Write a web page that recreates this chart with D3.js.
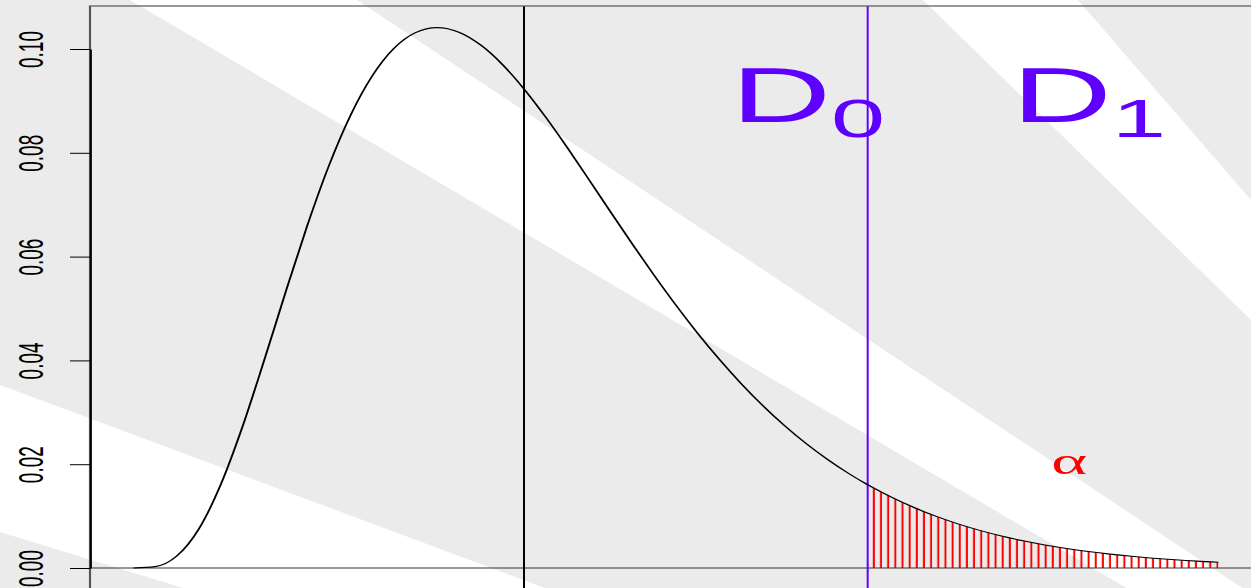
<!DOCTYPE html>
<html>
<head>
<meta charset="utf-8">
<script src="https://cdn.jsdelivr.net/npm/d3@7"></script>
<style>
  html, body { margin: 0; padding: 0; background: #ebebeb; overflow: hidden; }
  svg { display: block; }
</style>
</head>
<body>
<svg id="chart" width="1251" height="588"></svg>
<script>
// Chi-square density with 9 degrees of freedom, sampled every 0.5 on [0, 25]
const xValues = [0, 0.5, 1, 1.5, 2, 2.5, 3, 3.5, 4, 4.5, 5, 5.5, 6, 6.5, 7, 7.5, 8, 8.5, 9, 9.5,
  10, 10.5, 11, 11.5, 12, 12.5, 13, 13.5, 14, 14.5, 15, 15.5, 16, 16.5, 17, 17.5, 18, 18.5, 19, 19.5,
  20, 20.5, 21, 21.5, 22, 22.5, 23, 23.5, 24, 24.5, 25];
const densityValues = [0, 0.00026, 0.00230, 0.00742, 0.01581, 0.02689, 0.03965, 0.05296, 0.06582, 0.07741,
  0.08717, 0.09477, 0.10009, 0.10315, 0.10412, 0.10324, 0.10078, 0.09704, 0.09231, 0.08687,
  0.08096, 0.07479, 0.06855, 0.06237, 0.05638, 0.05065, 0.04525, 0.04022, 0.03557, 0.03132,
  0.02747, 0.02399, 0.02088, 0.01811, 0.01566, 0.01350, 0.01160, 0.00994, 0.00850, 0.00725,
  0.00617, 0.00524, 0.00444, 0.00375, 0.00317, 0.00267, 0.00225, 0.00189, 0.00158, 0.00132, 0.00111];

// Mean of the distribution and the 5% critical value with its density
const meanValue = 9;
const criticalValue = 16.919;
const criticalDensity = 0.01604;
const upperLimit = 25;

// Y axis ticks
const yTickValues = [0, 0.02, 0.04, 0.06, 0.08, 0.10];
const yTickLabels = ["0.00", "0.02", "0.04", "0.06", "0.08", "0.10"];

// Region labels
const regionLabels = ["D", "D"];
const regionSubscripts = ["0", "1"];
const tailLabel = "\u03B1";

// ---------------------------------------------------------------------------
const W = 1251, H = 588;
const SX = 1.8;               // horizontal stretch of the whole figure
const svg = d3.select("#chart");

// Backdrop: light grey with white diagonal bands
const backdropBands = [
  [[130, 0], [357, 0], [1242.5, 588], [1126.6, 588]],
  [[923, 0], [1078, 0], [1251, 200], [1251, 320]],
  [[0, 385], [545, 588], [183, 588], [0, 532]]
];
svg.append("rect").attr("width", W).attr("height", H).attr("fill", "#ebebeb");
svg.append("g").selectAll("polygon").data(backdropBands).join("polygon")
  .attr("points", d => d.map(p => p.join(",")).join(" "))
  .attr("fill", "#ffffff");

// Figure drawn in an unstretched frame, then widened
const g = svg.append("g").attr("transform", `scale(${SX},1)`);

const plotLeft = 90 / SX, plotRight = 1261.8 / SX;
const plotTop = 6, plotBottom = 589.6;

const x = d3.scaleLinear().domain([-1, 26]).range([plotLeft, plotRight]);
const y = d3.scaleLinear().domain([0, 0.10]).range([568, 49]);

const defs = svg.append("defs");
defs.append("clipPath").attr("id", "plotClip")
  .append("rect")
  .attr("x", plotLeft).attr("y", plotTop)
  .attr("width", plotRight - plotLeft).attr("height", plotBottom - plotTop);

const curvePoints = xValues.map((v, i) => ({ x: v, y: densityValues[i] }))
  .concat([{ x: criticalValue, y: criticalDensity }])
  .sort((a, b) => a.x - b.x);

const plot = g.append("g").attr("clip-path", "url(#plotClip)");

// Rejection region hatched with vertical red lines
const hatchStep = (x(upperLimit) - x(criticalValue)) / 49;
const pattern = defs.append("pattern")
  .attr("id", "hatch")
  .attr("patternUnits", "userSpaceOnUse")
  .attr("x", x(criticalValue)).attr("y", 0)
  .attr("width", hatchStep).attr("height", H);
pattern.append("rect")
  .attr("x", hatchStep - 1.1).attr("y", 0)
  .attr("width", 1.1).attr("height", H)
  .attr("fill", "#ff0000");

const tailPoints = curvePoints.filter(d => d.x >= criticalValue && d.x <= upperLimit);
plot.append("path")
  .datum(tailPoints)
  .attr("fill", "url(#hatch)")
  .attr("d", d3.area()
    .x(d => x(d.x))
    .y0(y(0))
    .y1(d => y(d.y))
    .curve(d3.curveMonotoneX));

// Zero line
plot.append("line")
  .attr("x1", plotLeft).attr("x2", plotRight)
  .attr("y1", y(0)).attr("y2", y(0))
  .attr("stroke", "#333").attr("stroke-width", 1.1);

// Mean line
plot.append("line")
  .attr("x1", x(meanValue)).attr("x2", x(meanValue))
  .attr("y1", plotTop).attr("y2", plotBottom)
  .attr("stroke", "#000").attr("stroke-width", 1.1);

// Critical value line
plot.append("line")
  .attr("x1", x(criticalValue)).attr("x2", x(criticalValue))
  .attr("y1", plotTop).attr("y2", plotBottom)
  .attr("stroke", "#5f00ff").attr("stroke-width", 1.1);

// Density curve
plot.append("path")
  .datum(curvePoints)
  .attr("fill", "none")
  .attr("stroke", "#000")
  .attr("stroke-width", 1.1)
  .attr("d", d3.line()
    .x(d => x(d.x))
    .y(d => y(d.y))
    .curve(d3.curveMonotoneX));

// Plot box
g.append("rect")
  .attr("x", plotLeft).attr("y", plotTop)
  .attr("width", plotRight - plotLeft).attr("height", plotBottom - plotTop)
  .attr("fill", "none").attr("stroke", "#555").attr("stroke-width", 1.2);

// Y axis
const yAxis = d3.axisLeft(y)
  .tickValues(yTickValues)
  .tickFormat((d, i) => yTickLabels[i])
  .tickSize(20 / SX)
  .tickSizeOuter(0);
const axisG = g.append("g")
  .attr("transform", `translate(${plotLeft},0)`)
  .call(yAxis);
axisG.select(".domain").attr("stroke", "#000").attr("stroke-width", 1.1);
axisG.selectAll(".tick line").attr("stroke", "#000").attr("stroke-width", 1);
axisG.selectAll(".tick text")
  .attr("x", null).attr("dy", null)
  .attr("transform", `translate(${-(plotLeft - 43 / SX)},0) rotate(-90)`)
  .attr("text-anchor", "middle")
  .attr("fill", "#000")
  .style("font-family", "'Liberation Sans', Arial, sans-serif")
  .style("font-size", "19px");

// Region labels D0 and D1
const labelFont = "'Liberation Sans', Arial, sans-serif";
const labelX = [x(13.77), x(20.24)];
regionLabels.forEach((lab, i) => {
  const t = g.append("text")
    .attr("x", labelX[i]).attr("y", 122)
    .attr("fill", "#5f00ff")
    .style("font-family", labelFont)
    .style("font-size", "77px")
    .text(lab);
  t.append("tspan")
    .attr("dy", 15)
    .style("font-size", "54px")
    .text(regionSubscripts[i]);
});

// Significance level label
g.append("text")
  .attr("x", x(21.56)).attr("y", 474)
  .attr("text-anchor", "middle")
  .attr("fill", "#ff0000")
  .style("font-family", "'Liberation Serif', 'DejaVu Serif', serif")
  .style("font-size", "38px")
  .text(tailLabel);
</script>
</body>
</html>
